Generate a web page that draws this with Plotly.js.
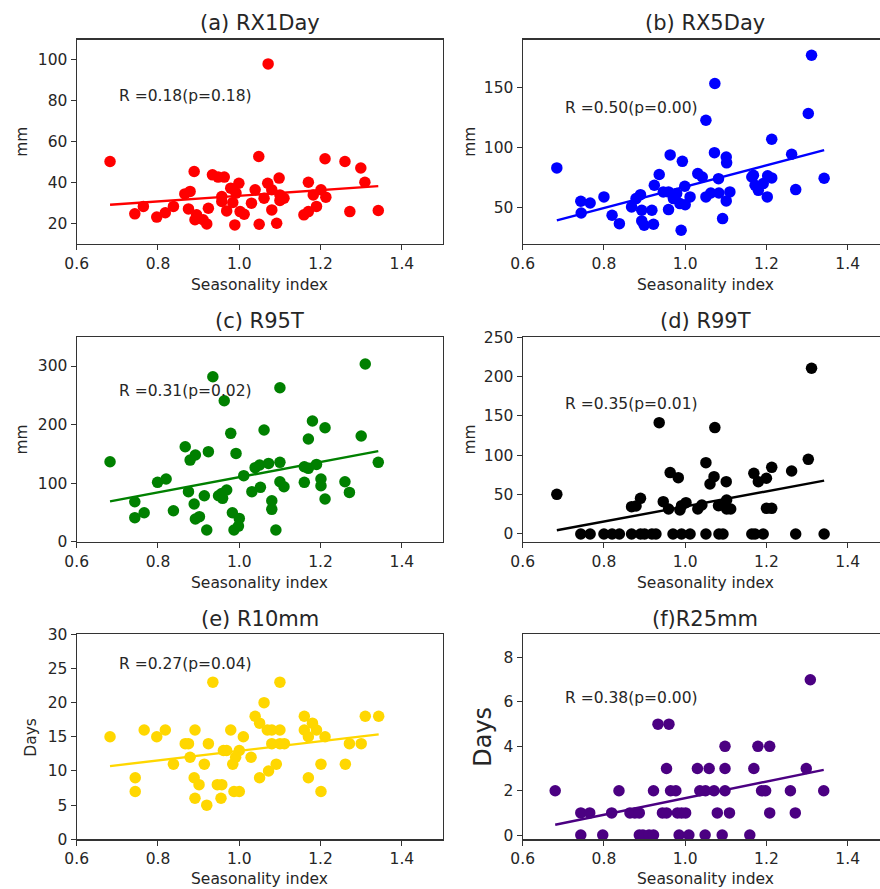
<!DOCTYPE html>
<html>
<head>
<meta charset="utf-8">
<script src="https://cdn.plot.ly/plotly-3.0.1.min.js"></script>
<style>html,body{margin:0;padding:0;background:#fff;}</style>
</head>
<body>
<div id="chart" style="width:880px;height:889px;"></div>
<script>
// ---------- data ----------
const panelTitles = ["(a) RX1Day", "(b) RX5Day", "(c) R95T", "(d) R99T", "(e) R10mm", "(f)R25mm"];
const yLabels = ["mm", "mm", "mm", "mm", "Days", "Days"];
const rTexts = ["R =0.18(p=0.18)", "R =0.50(p=0.00)", "R =0.31(p=0.02)", "R =0.35(p=0.01)", "R =0.27(p=0.04)", "R =0.38(p=0.00)"];
const colors = ["#ff0000", "#0000ff", "#008000", "#000000", "#ffd700", "#4b0082"];

const xA = [0.682,0.743,0.764,0.797,0.818,0.838,0.866,0.879,0.875,0.889,0.891,0.895,0.911,0.920,0.924,0.934,0.948,0.963,0.957,0.957,0.969,0.979,0.984,0.992,0.999,0.989,1.002,1.012,1.030,1.039,1.048,1.049,1.061,1.070,1.071,1.080,1.080,1.092,1.098,1.100,1.100,1.110,1.159,1.170,1.170,1.182,1.190,1.201,1.211,1.213,1.260,1.272,1.299,1.309,1.342];
const yA = [50.4,24.9,28.5,23.3,25.4,28.5,34.6,35.8,27.3,45.5,22,24.4,22,20,27.6,43.9,42.8,42.8,33.3,30.9,26.3,37.4,30.4,35,39.8,19.5,26,24.7,30.1,36.6,52.8,19.8,32.5,39.8,97.9,36.6,26.8,20.3,42.3,34.1,31.4,32.5,24.4,26,40.3,34.1,28.5,36.6,51.7,33,50.4,26,47.2,40.3,26.5];

const xB = [0.684,0.743,0.744,0.766,0.800,0.820,0.838,0.868,0.879,0.890,0.893,0.893,0.899,0.918,0.922,0.924,0.936,0.946,0.959,0.959,0.963,0.971,0.979,0.987,0.990,0.993,0.999,1.000,1.012,1.031,1.042,1.051,1.051,1.063,1.072,1.073,1.082,1.083,1.092,1.101,1.102,1.101,1.110,1.164,1.168,1.172,1.180,1.192,1.202,1.203,1.213,1.213,1.262,1.272,1.303,1.311,1.342];
const yB = [83.1,55.4,45.7,54,59,43.8,36.8,50.7,57.6,60.9,47.9,39.1,35.5,47.9,36.3,68.7,77.6,63.2,63.2,48.5,93.9,57.6,61.8,53.5,31.3,88.6,67.9,52.6,59,78.4,75.6,122.7,59,62.3,95.8,153.2,74.2,62.3,41,92.2,87.3,55.7,63.2,75.6,77,68.7,64.5,70.1,59,76.5,74.8,106.9,94.5,65.1,128.3,176.7,74.5];

const xC = [0.682,0.743,0.743,0.766,0.799,0.820,0.838,0.867,0.875,0.879,0.892,0.889,0.892,0.902,0.914,0.920,0.924,0.935,0.949,0.959,0.957,0.969,0.963,0.979,0.983,0.992,0.987,1.000,0.998,1.011,1.031,1.039,1.052,1.050,1.061,1.072,1.080,1.080,1.090,1.100,1.100,1.100,1.110,1.160,1.160,1.170,1.170,1.180,1.190,1.201,1.201,1.211,1.211,1.260,1.271,1.300,1.310,1.342];
const yC = [136.6,68.3,41,49.5,101.3,107,52.9,162.2,85.4,139.4,148,64.3,38.7,42.7,78.5,19.9,153.7,281.7,78.5,74,82.5,88.2,240.7,185,49.5,150.8,19.9,39.8,26.7,112.7,85.4,126.4,92.8,130.9,190.7,133.7,70,55.2,19.9,262.9,135.5,102.4,93.9,101.3,128,175.3,125.2,206,132,107,95.6,194.6,72.9,102.4,84.2,180.4,303.4,135.5];

const xD = [0.684,0.743,0.766,0.800,0.820,0.838,0.868,0.868,0.879,0.890,0.890,0.900,0.918,0.928,0.936,0.946,0.959,0.963,0.970,0.983,0.987,0.991,0.991,1.002,1.012,1.031,1.041,1.051,1.051,1.061,1.071,1.073,1.082,1.083,1.093,1.101,1.102,1.102,1.112,1.164,1.169,1.172,1.180,1.192,1.200,1.200,1.213,1.213,1.262,1.272,1.303,1.311,1.342];
const yD = [50.4,0,0,0,0,0,0,34.7,35.6,45.3,0,0,0,0,141.5,41.1,31.8,78,0,71.6,30.5,36,0,39.8,0,31.8,36.9,90.7,0,63.6,72.9,135.2,36,0,0,66.5,43.2,31.8,31.8,0,77.1,0,66.5,0,70.8,32.6,32.6,84.7,80.1,0,94.9,210.6,0];

const xE = [0.682,0.744,0.744,0.766,0.797,0.818,0.838,0.867,0.875,0.879,0.889,0.891,0.891,0.901,0.914,0.920,0.924,0.935,0.946,0.957,0.955,0.961,0.969,0.979,0.984,0.987,0.991,1.000,1.000,1.010,1.029,1.039,1.050,1.050,1.061,1.069,1.072,1.080,1.080,1.091,1.100,1.100,1.100,1.111,1.160,1.160,1.170,1.170,1.180,1.190,1.201,1.201,1.211,1.261,1.271,1.300,1.310,1.343];
const yE = [15,9,7,16,15,16,11,14,14,12,9,16,6,8,11,5,14,23,8,8,6,13,13,16,11,7,12,7,13,15,12,18,17,9,20,16,10,14,16,11,23,16,14,14,18,16,15,9,17,16,11,7,15,11,14,14,18,18];

const xF = [0.680,0.743,0.743,0.765,0.797,0.819,0.837,0.864,0.876,0.887,0.887,0.896,0.911,0.922,0.922,0.933,0.944,0.954,0.954,0.960,0.964,0.977,0.981,0.985,0.991,1.001,1.009,1.030,1.036,1.049,1.050,1.059,1.071,1.079,1.091,1.098,1.098,1.098,1.109,1.159,1.169,1.179,1.188,1.198,1.208,1.208,1.259,1.271,1.298,1.308,1.341];
const yF = [2,1,0,1,0,1,2,1,1,1,0,0,0,2,0,5,1,1,3,5,2,2,1,0,1,1,0,3,2,0,2,3,2,1,0,4,3,2,1,0,3,4,2,2,4,1,2,1,3,7,2];

const xTickVals = [0.6, 0.8, 1.0, 1.2, 1.4];
const yTickVals = [[20,40,60,80,100],[50,100,150],[0,100,200,300],[0,50,100,150,200,250],[0,5,10,15,20,25,30],[0,2,4,6,8]];
const yRanges = [[10.2,109.8],[19.9,189.8],[0,349],[-9.8,250],[0,30],[-0.19,9.05]];
const rTextY = [82.2,133.2,257.5,165.4,25.7,6.17];

// ---------- layout helpers (pixel geometry) ----------
const W = 880, H = 889;
const px = v => v / W;
const py = v => 1 - v / H;
const colPx = [[76.7, 442.5], [522.7, 880]];
const rowPx = [[39.5, 244], [337.3, 541.7], [634.3, 839.3]];
const xRanges = [[0.6, 1.5], [0.6, 0.6 + (880 - 522.7) / 406.25]];
const titleMidY = [23.5, 321.5, 618.5];
const xLabelMidY = [284.5, 582.5, 879];
const titleCenterX = [259.6, 705];
const yLabelX = [[22, 470], [22, 470], [31, 483]];

function fit(xs, ys) {
  const n = xs.length;
  const mx = xs.reduce((a, b) => a + b, 0) / n;
  const my = ys.reduce((a, b) => a + b, 0) / n;
  let sxy = 0, sxx = 0;
  for (let i = 0; i < n; i++) { sxy += (xs[i] - mx) * (ys[i] - my); sxx += (xs[i] - mx) ** 2; }
  const b = sxy / sxx, a = my - b * mx;
  const x0 = Math.min(...xs), x1 = Math.max(...xs);
  return {x: [x0, x1], y: [a + b * x0, a + b * x1]};
}

const xs = [xA, xB, xC, xD, xE, xF];
const ys = [yA, yB, yC, yD, yE, yF];
const traces = [];
const layout = {
  width: W, height: H,
  margin: {l: 0, r: 0, t: 0, b: 0},
  showlegend: false,
  paper_bgcolor: "#ffffff", plot_bgcolor: "#ffffff",
  font: {family: "DejaVu Sans", size: 15.5, color: "#262626"},
  annotations: []
};
const axColor = "#333333";

for (let k = 0; k < 6; k++) {
  const row = Math.floor(k / 2), col = k % 2;
  const sfx = k === 0 ? "" : String(k + 1);
  const xa = "x" + sfx, ya = "y" + sfx;
  traces.push({
    type: "scatter", mode: "markers", x: xs[k], y: ys[k], xaxis: xa, yaxis: ya,
    marker: {color: colors[k], size: 11.5, line: {width: 0}}, cliponaxis: false, hoverinfo: "skip"
  });
  const f = fit(xs[k], ys[k]);
  traces.push({
    type: "scatter", mode: "lines", x: f.x, y: f.y, xaxis: xa, yaxis: ya,
    line: {color: colors[k], width: 2.4}, hoverinfo: "skip"
  });
  layout["xaxis" + sfx] = {
    domain: [px(colPx[col][0]), px(colPx[col][1])], anchor: ya, range: xRanges[col],
    tickvals: xTickVals, tickformat: ".1f", ticks: "outside", ticklen: 5, tickwidth: 1, tickcolor: axColor,
    showline: true, linecolor: axColor, linewidth: 1.2, mirror: true, showgrid: false, zeroline: false,
    tickfont: {size: 15.5, family: "DejaVu Sans", color: "#262626"}, fixedrange: true
  };
  layout["yaxis" + sfx] = {
    domain: [py(rowPx[row][1]), py(rowPx[row][0])], anchor: xa, range: yRanges[k],
    tickvals: yTickVals[k], ticks: "outside", ticklen: 5, tickwidth: 1, tickcolor: axColor,
    showline: true, linecolor: axColor, linewidth: 1.2, mirror: col === 0, showgrid: false, zeroline: false,
    tickfont: {size: 15.5, family: "DejaVu Sans", color: "#262626"}, fixedrange: true
  };
  // panel title
  layout.annotations.push({
    xref: "paper", yref: "paper", x: px(titleCenterX[col]), y: py(titleMidY[row]),
    xanchor: "center", yanchor: "middle", showarrow: false, text: panelTitles[k],
    font: {size: 21, family: "DejaVu Sans", color: "#262626"}
  });
  // x label
  layout.annotations.push({
    xref: "paper", yref: "paper", x: px(titleCenterX[col]), y: py(xLabelMidY[row]),
    xanchor: "center", yanchor: "middle", showarrow: false, text: "Seasonality index",
    font: {size: 15.5, family: "DejaVu Sans", color: "#262626"}
  });
  // y label
  const yMid = (rowPx[row][0] + rowPx[row][1]) / 2;
  layout.annotations.push({
    xref: "paper", yref: "paper", x: px(yLabelX[row][col]), y: py(yMid),
    xanchor: "center", yanchor: "middle", showarrow: false, text: yLabels[k], textangle: -90,
    font: {size: k === 5 ? 24 : 15.5, family: "DejaVu Sans", color: "#262626"}
  });
  // R text
  layout.annotations.push({
    xref: xa, yref: ya, x: 0.7, y: rTextY[k], xanchor: "left", yanchor: "middle",
    showarrow: false, text: rTexts[k], font: {size: 15.5, family: "DejaVu Sans", color: "#262626"}
  });
}

Plotly.newPlot("chart", traces, layout, {staticPlot: true, displayModeBar: false});
</script>
</body>
</html>
